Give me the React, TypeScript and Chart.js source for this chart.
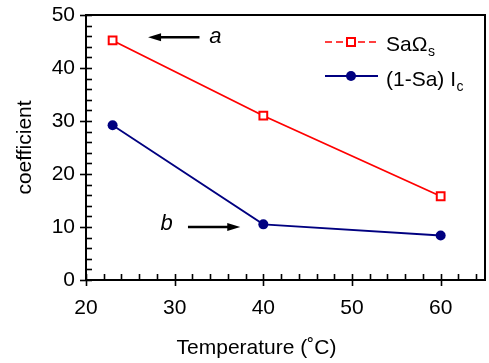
import React, { useEffect, useRef } from "react";
import { Chart, registerables } from "chart.js";

Chart.register(...registerables);

// ---- data ----
const temperatures = [23, 40, 60];
const saOmegaS = [45.2, 31.0, 15.8];
const oneMinusSaIc = [29.2, 10.5, 8.4];
const xTicks = [20, 30, 40, 50, 60];
const yTicks = [0, 10, 20, 30, 40, 50];
const xMinorStep = 2;
const yMinorStep = 2;
const xTitle = "Temperature (˚C)";
const yTitle = "coefficient";
// annotation arrows in data coordinates: [xFrom, xTo(head), y]
const arrowA = [32.8, 27.0, 45.8];
const arrowB = [31.5, 37.4, 10.0];
// annotation labels: [x, y, text]
const labelA: [number, number, string] = [34.6, 45.8, "a"];
const labelB: [number, number, string] = [29.1, 10.6, "b"];

const FONT = "Arial, 'Liberation Sans', Helvetica, sans-serif";
const RED = "#ff0000";
const NAVY = "#000080";

const framePlugin = {
  id: "frame",
  beforeDatasetsDraw(chart: any) {
    const { ctx, chartArea: a, scales } = chart;
    const xs = scales.x;
    const ys = scales.y;
    ctx.save();
    ctx.strokeStyle = "#000";
    ctx.lineCap = "butt";
    // box
    ctx.lineWidth = 2;
    ctx.strokeRect(a.left, a.top, a.right - a.left, a.bottom - a.top);
    // y ticks
    ctx.lineWidth = 1.6;
    for (let v = ys.min; v <= ys.max + 1e-9; v += yMinorStep) {
      const py = Math.round(ys.getPixelForValue(v)) + 0.5;
      const major = yTicks.includes(Math.round(v));
      ctx.beginPath();
      ctx.moveTo(a.left - (major ? 6 : 0), py);
      ctx.lineTo(a.left + 6, py);
      ctx.stroke();
    }
    // x ticks
    for (let v = xs.min; v <= xs.max + 1e-9; v += xMinorStep) {
      const px = Math.round(xs.getPixelForValue(v)) + 0.5;
      const major = xTicks.includes(Math.round(v));
      ctx.beginPath();
      ctx.moveTo(px, a.bottom + (major ? 6 : 0));
      ctx.lineTo(px, a.bottom - 6);
      ctx.stroke();
    }
    ctx.restore();
  },
  afterDraw(chart: any) {
    const { ctx, scales } = chart;
    const xs = scales.x;
    const ys = scales.y;
    ctx.save();
    // x title (offset to the left as in the original figure)
    ctx.fillStyle = "#000";
    ctx.font = `21px ${FONT}`;
    ctx.textAlign = "center";
    ctx.textBaseline = "middle";
    ctx.fillText(xTitle, 256.5, 348);

    // arrows
    const drawArrow = (arr: number[]) => {
      const x1 = xs.getPixelForValue(arr[0]);
      const x2 = xs.getPixelForValue(arr[1]);
      const y = ys.getPixelForValue(arr[2]);
      const dir = Math.sign(x2 - x1);
      const headLen = 13;
      ctx.strokeStyle = "#000";
      ctx.fillStyle = "#000";
      ctx.lineWidth = 2.6;
      ctx.beginPath();
      ctx.moveTo(x1, y);
      ctx.lineTo(x2 - dir * headLen * 0.7, y);
      ctx.stroke();
      ctx.beginPath();
      ctx.moveTo(x2, y);
      ctx.lineTo(x2 - dir * headLen, y - 4);
      ctx.lineTo(x2 - dir * headLen, y + 4);
      ctx.closePath();
      ctx.fill();
    };
    drawArrow(arrowA);
    drawArrow(arrowB);
    ctx.fillStyle = "#000";
    ctx.font = `italic 22px ${FONT}`;
    ctx.textAlign = "center";
    ctx.textBaseline = "middle";
    for (const l of [labelA, labelB]) {
      ctx.fillText(l[2], xs.getPixelForValue(l[0]), ys.getPixelForValue(l[1]));
    }

    // legend
    const lx1 = 325, lx2 = 378, mx = 351, tx = 386;
    const y1 = 42, y2 = 76;
    ctx.strokeStyle = RED;
    ctx.lineWidth = 1.5;
    ctx.setLineDash([7, 4]);
    ctx.beginPath();
    ctx.moveTo(lx1, y1);
    ctx.lineTo(lx2, y1);
    ctx.stroke();
    ctx.setLineDash([]);
    ctx.fillStyle = "#fff";
    ctx.lineWidth = 2;
    ctx.fillRect(mx - 4, y1 - 4, 8, 8);
    ctx.strokeRect(mx - 4, y1 - 4, 8, 8);

    ctx.strokeStyle = NAVY;
    ctx.lineWidth = 2;
    ctx.beginPath();
    ctx.moveTo(lx1, y2);
    ctx.lineTo(lx2, y2);
    ctx.stroke();
    ctx.fillStyle = NAVY;
    ctx.beginPath();
    ctx.arc(mx, y2, 5, 0, Math.PI * 2);
    ctx.fill();

    ctx.fillStyle = "#000";
    ctx.textAlign = "left";
    ctx.textBaseline = "alphabetic";
    const drawSub = (main: string, sub: string, x: number, baseY: number) => {
      ctx.font = `21px ${FONT}`;
      ctx.fillText(main, x, baseY);
      const w = ctx.measureText(main).width;
      ctx.font = `14px ${FONT}`;
      ctx.fillText(sub, x + w + 0.5, baseY + 5);
    };
    drawSub("SaΩ", "s", tx, 50.5);
    drawSub("(1-Sa) I", "c", tx, 86);
    ctx.restore();
  },
};

export default function App() {
  const ref = useRef<HTMLCanvasElement | null>(null);
  useEffect(() => {
    if (!ref.current) return;
    const chart = new Chart(ref.current, {
      type: "line",
      data: {
        datasets: [
          {
            label: "SaΩs",
            data: temperatures.map((t, i) => ({ x: t, y: saOmegaS[i] })),
            borderColor: RED,
            backgroundColor: "#fff",
            borderWidth: 1.8,
            pointStyle: "rect",
            pointRadius: 5.5,
            pointBorderWidth: 2,
            pointBorderColor: RED,
            pointBackgroundColor: "#fff",
            tension: 0,
          },
          {
            label: "(1-Sa) Ic",
            data: temperatures.map((t, i) => ({ x: t, y: oneMinusSaIc[i] })),
            borderColor: NAVY,
            backgroundColor: NAVY,
            borderWidth: 1.8,
            pointStyle: "circle",
            pointRadius: 5,
            pointBorderWidth: 0,
            pointBackgroundColor: NAVY,
            tension: 0,
          },
        ],
      },
      options: {
        animation: false,
        responsive: false,
        layout: { autoPadding: false, padding: { top: 15, right: 4, left: 0, bottom: 0 } },
        plugins: { legend: { display: false }, tooltip: { enabled: false } },
        scales: {
          x: {
            type: "linear",
            min: 20,
            max: 65,
            afterBuildTicks: (s: any) => {
              s.ticks = xTicks.map((v) => ({ value: v }));
            },
            afterFit: (s: any) => {
              s.height = 83;
            },
            grid: { display: false, drawTicks: false },
            border: { display: false },
            ticks: {
              padding: 16,
              color: "#000",
              font: { family: FONT, size: 21 },
              maxRotation: 0,
            },
            title: { display: false },
          },
          y: {
            type: "linear",
            min: 0,
            max: 50,
            afterBuildTicks: (s: any) => {
              s.ticks = yTicks.map((v) => ({ value: v }));
            },
            afterFit: (s: any) => {
              s.width = 86;
            },
            grid: { display: false, drawTicks: false },
            border: { display: false },
            ticks: {
              padding: 11,
              color: "#000",
              font: { family: FONT, size: 21, lineHeight: 0.3 },
            },
            title: {
              display: true,
              text: yTitle,
              color: "#000",
              font: { family: FONT, size: 21 },
              padding: { top: 13, bottom: 0 },
            },
          },
        },
      },
      plugins: [framePlugin],
    } as any);
    return () => chart.destroy();
  }, []);
  return (
    <div style={{ position: "absolute", left: 0, top: 0, width: 489, height: 363, background: "#fff" }}>
      <canvas ref={ref} width={489} height={363} style={{ display: "block" }} />
    </div>
  );
}
